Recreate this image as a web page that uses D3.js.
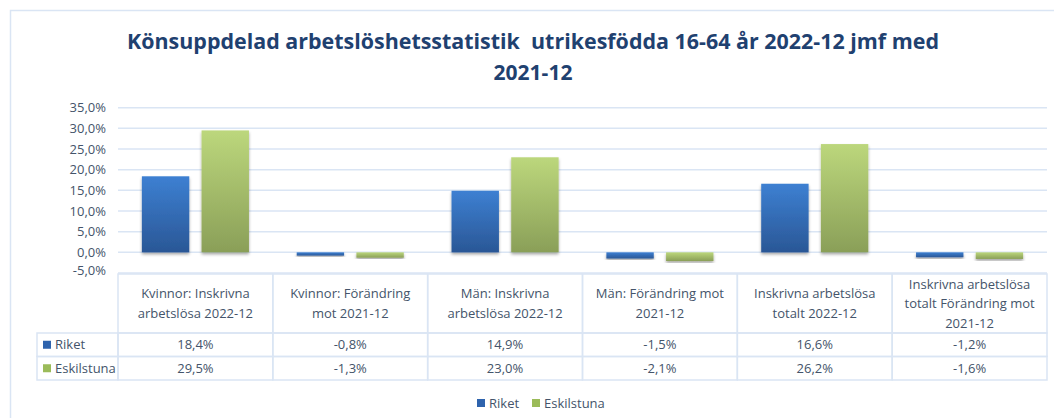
<!DOCTYPE html>
<html>
<head>
<meta charset="utf-8">
<script src="https://cdn.jsdelivr.net/npm/d3@7"></script>
<style>
  body { margin: 0; background: #fff; }
  svg { display: block; font-family: "Open Sans", "Noto Sans", sans-serif; }
</style>
</head>
<body>
<div id="chart"></div>
<script>
const W = 1054, H = 418;

// data
const titleLines = ["Könsuppdelad arbetslöshetsstatistik  utrikesfödda 16-64 år 2022-12 jmf med", "2021-12"];
const categories = [
  ["Kvinnor: Inskrivna", "arbetslösa 2022-12"],
  ["Kvinnor: Förändring", "mot 2021-12"],
  ["Män: Inskrivna", "arbetslösa 2022-12"],
  ["Män: Förändring mot", "2021-12"],
  ["Inskrivna arbetslösa", "totalt 2022-12"],
  ["Inskrivna arbetslösa", "totalt Förändring mot", "2021-12"]
];
const seriesNames = ["Riket", "Eskilstuna"];
const riket = [18.4, -0.8, 14.9, -1.5, 16.6, -1.2];
const eskilstuna = [29.5, -1.3, 23.0, -2.1, 26.2, -1.6];
const yTicks = [-5, 0, 5, 10, 15, 20, 25, 30, 35];

const series = [riket, eskilstuna];
const colors = {
  Riket: { top: "#3d80d2", bottom: "#2a5796", swatch: "#2e63ad" },
  Eskilstuna: { top: "#bcd77c", bottom: "#8a9f58", swatch: "#9bbb59" }
};
const textColor = "#44546a";
const lineColor = "#dae5f4";

const fmt = v => d3.format(".1f")(v).replace(".", ",").replace("−", "-") + "%";

const svg = d3.select("#chart").append("svg")
  .attr("width", W)
  .attr("height", H);

const defs = svg.append("defs");
seriesNames.forEach((s, i) => {
  const g = defs.append("linearGradient")
    .attr("id", "grad" + i)
    .attr("x1", 0).attr("y1", 0).attr("x2", 0).attr("y2", 1);
  g.append("stop").attr("offset", "0%").attr("stop-color", colors[s].top);
  g.append("stop").attr("offset", "100%").attr("stop-color", colors[s].bottom);
});
defs.append("filter").attr("id", "shadow")
  .attr("x", "-20%").attr("y", "-20%").attr("width", "140%").attr("height", "140%")
  .append("feDropShadow")
  .attr("dx", 0).attr("dy", 2).attr("stdDeviation", 1.5)
  .attr("flood-color", "#000").attr("flood-opacity", 0.35);

// outer frame
svg.append("rect")
  .attr("x", 10.5).attr("y", 10.5)
  .attr("width", W).attr("height", H)
  .attr("fill", "none")
  .attr("stroke", lineColor)
  .attr("stroke-width", 1.5);

// title
svg.append("g").selectAll("text")
  .data(titleLines)
  .join("text")
  .attr("x", 533)
  .attr("y", (d, i) => 49 + i * 31)
  .attr("text-anchor", "middle")
  .attr("fill", "#1f4170")
  .attr("font-size", 21)
  .attr("font-weight", "bold")
  .style("white-space", "pre")
  .attr("textLength", (d, i) => i === 0 ? 812 : null)
  .attr("lengthAdjust", "spacingAndGlyphs")
  .text(d => d);

// scales
const x = d3.scaleBand()
  .domain(d3.range(categories.length))
  .range([118, 1047]);

const xInner = d3.scaleBand()
  .domain(seriesNames)
  .range([0, x.bandwidth()])
  .paddingInner(0.206)
  .paddingOuter(0.4);

const y = d3.scaleLinear()
  .domain([-5, 35])
  .range([273, 107.7]);

// gridlines
svg.append("g")
  .selectAll("line")
  .data(yTicks)
  .join("line")
  .attr("x1", 118).attr("x2", 1047)
  .attr("y1", d => y(d)).attr("y2", d => y(d))
  .attr("stroke", lineColor)
  .attr("stroke-width", 1.5);

// y axis
const yAxis = svg.append("g")
  .attr("transform", "translate(118,0)")
  .call(d3.axisLeft(y).tickValues(yTicks).tickSize(0).tickPadding(12).tickFormat(fmt));
yAxis.select(".domain").remove();
yAxis.selectAll("text")
  .attr("fill", textColor)
  .attr("font-size", 13)
  .attr("font-family", "'Open Sans', sans-serif");
yAxis.selectAll(".tick").filter(d => d === -5)
  .select("text").attr("dy", "0.1em");

// bars
const groups = svg.append("g")
  .selectAll("g")
  .data(categories.map((c, i) => i))
  .join("g")
  .attr("transform", i => `translate(${x(i)},0)`);

groups.selectAll("rect")
  .data(i => seriesNames.map((s, k) => ({ s, k, v: series[k][i] })))
  .join("rect")
  .attr("x", d => xInner(d.s))
  .attr("width", xInner.bandwidth())
  .attr("y", d => y(Math.max(0, d.v)))
  .attr("height", d => Math.abs(y(d.v) - y(0)))
  .attr("fill", d => `url(#grad${d.k})`)
  .attr("filter", "url(#shadow)");

// data table
const tableTop = 274, headerBottom = 333, rowH = 23.5;
const table = svg.append("g");

// header cells
const heads = table.selectAll("g.head")
  .data(categories)
  .join("g")
  .attr("class", "head");

heads.append("rect")
  .attr("x", (d, i) => x(i))
  .attr("y", tableTop)
  .attr("width", x.bandwidth())
  .attr("height", headerBottom - tableTop)
  .attr("fill", "none")
  .attr("stroke", lineColor)
  .attr("stroke-width", 1.5);

heads.each(function (lines, i) {
  const cy = (tableTop + headerBottom) / 2;
  const lh = 19.5;
  d3.select(this).selectAll("text")
    .data(lines)
    .join("text")
    .attr("x", x(i) + x.bandwidth() / 2)
    .attr("y", (d, j) => cy + (j - (lines.length - 1) / 2) * lh)
    .attr("dy", "0.35em")
    .attr("text-anchor", "middle")
    .attr("fill", textColor)
    .attr("font-size", 13)
    .text(d => d);
});

// value rows
seriesNames.forEach((s, k) => {
  const ry = headerBottom + k * rowH;
  const row = table.append("g");
  row.append("rect")
    .attr("x", 37).attr("y", ry)
    .attr("width", 118 - 37).attr("height", rowH)
    .attr("fill", "none")
    .attr("stroke", lineColor)
    .attr("stroke-width", 1.5);
  row.append("rect")
    .attr("x", 43).attr("y", ry + rowH / 2 - 4)
    .attr("width", 8).attr("height", 8)
    .attr("fill", colors[s].swatch);
  row.append("text")
    .attr("x", 55).attr("y", ry + rowH / 2)
    .attr("dy", "0.35em")
    .attr("fill", textColor)
    .attr("font-size", 13)
    .text(s);
  row.selectAll("g")
    .data(series[k])
    .join("g")
    .each(function (v, i) {
      const cell = d3.select(this);
      cell.append("rect")
        .attr("x", x(i)).attr("y", ry)
        .attr("width", x.bandwidth()).attr("height", rowH)
        .attr("fill", "none")
        .attr("stroke", lineColor)
        .attr("stroke-width", 1.5);
      cell.append("text")
        .attr("x", x(i) + x.bandwidth() / 2)
        .attr("y", ry + rowH / 2)
        .attr("dy", "0.35em")
        .attr("text-anchor", "middle")
        .attr("fill", textColor)
        .attr("font-size", 13)
        .text(fmt(v));
    });
});

// legend
const legend = svg.append("g").attr("transform", "translate(477,403)");
const legX = [0, 55];
seriesNames.forEach((s, k) => {
  const g = legend.append("g").attr("transform", `translate(${legX[k]},0)`);
  g.append("rect")
    .attr("x", 0).attr("y", -4)
    .attr("width", 8).attr("height", 8)
    .attr("fill", colors[s].swatch);
  g.append("text")
    .attr("x", 12).attr("y", 0)
    .attr("dy", "0.35em")
    .attr("fill", textColor)
    .attr("font-size", 13)
    .text(s);
});
</script>
</body>
</html>
